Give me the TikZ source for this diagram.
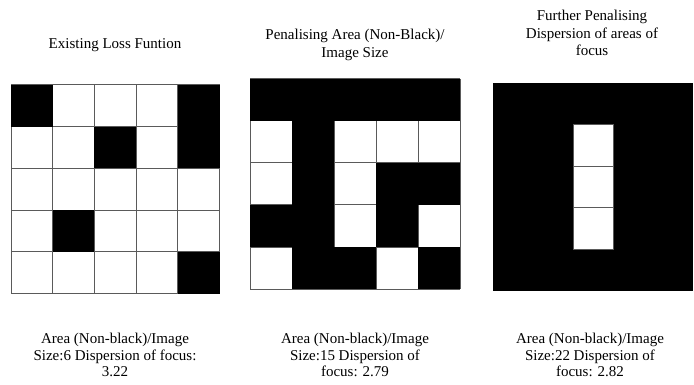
\documentclass[tikz,border=0pt]{standalone}
\usepackage{fontspec}
\setmainfont{Liberation Serif}
\usepackage{xcolor}
\usepackage{tikz}
\usetikzlibrary{positioning}
\definecolor{gridgray}{RGB}{90,90,90}
\tikzset{
  cellline/.style={draw=gridgray,line width=1pt},
  blackcell/.style={fill=black},
  whitecell/.style={fill=white,draw=gridgray,line width=1pt},
  heading/.style={align=center,inner sep=0pt,font=\fontsize{15}{17.5}\selectfont},
  caption/.style={align=center,inner sep=0pt,font=\fontsize{15}{16.5}\selectfont}
}

\begin{document}
\begin{tikzpicture}
  \useasboundingbox (0,0) rectangle (694pt,-385pt);

  % existing loss
  \begin{scope}[shift={(11pt,-85pt)},x=41.7pt,y=-41.7pt]
    \fill[white] (0,0) rectangle (5,5);
    \foreach \i in {0,...,5} {
      \draw[cellline] (\i,0) -- (\i,5);
      \draw[cellline] (0,\i) -- (5,\i);
    }
    \foreach \c/\r in {0/0,4/0,2/1,4/1,1/3,4/4}
      \fill[blackcell] (\c,\r) rectangle ++(1,1);
  \end{scope}

  % penalising area
  \begin{scope}[shift={(250pt,-79pt)},x=42pt,y=-42pt]
    \fill[white] (0,0) rectangle (5,5);
    \foreach \i in {0,...,5} {
      \draw[cellline] (\i,0) -- (\i,5);
      \draw[cellline] (0,\i) -- (5,\i);
    }
    \foreach \c/\r in {0/0,1/0,2/0,3/0,4/0,1/1,1/2,3/2,4/2,
                       0/3,1/3,3/3,1/4,2/4,4/4}
      \fill[blackcell] (\c,\r) rectangle ++(1,1);
  \end{scope}

  % dispersion
  \begin{scope}[shift={(493pt,-83pt)},x=40pt,y=-41.6pt]
    \fill[blackcell] (0,0) rectangle (5,5);
    \foreach \r in {1,2,3}
      \draw[whitecell] (2,\r) rectangle ++(1,1);
  \end{scope}

  \node[heading] (existing) at (115pt,-45pt) {Existing Loss Funtion};
  \node[heading] (area) at (355pt,-45pt) {Penalising Area (Non-Black)/\\Image Size};
  \node[heading] (further) at (592pt,-33pt) {Further Penalising\\Dispersion of areas of\\focus};

  \node[caption] (capexisting) at (115pt,-355pt)
    {Area (Non-black)/Image\\Size:6 Dispersion of focus:\\3.22};
  \node[caption] (caparea) at (355pt,-355pt)
    {Area (Non-black)/Image\\Size:15 Dispersion of\\focus: 2.79};
  \node[caption] (capfurther) at (590pt,-355pt)
    {Area (Non-black)/Image\\Size:22 Dispersion of\\focus: 2.82};
\end{tikzpicture}
\end{document}
